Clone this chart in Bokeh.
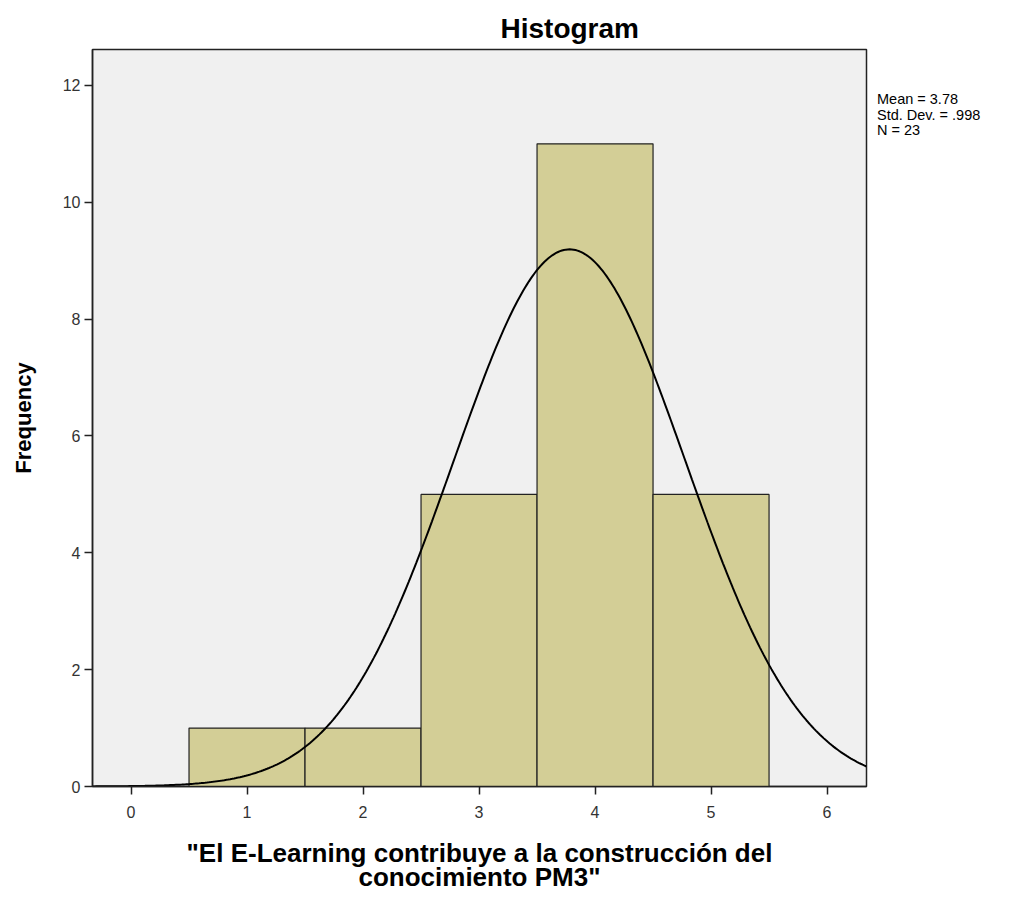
import numpy as np
from bokeh.plotting import figure
from bokeh.models import Range1d, ColumnDataSource, Div, Title
from bokeh.layouts import row
from bokeh.embed import file_html
from bokeh.resources import INLINE

# Data
bin_left = [0.5, 1.5, 2.5, 3.5, 4.5]
bin_right = [1.5, 2.5, 3.5, 4.5, 5.5]
counts = [1, 1, 5, 11, 5]
mean_val = 3.78
std_val = 0.998
n_val = 23
stats_lines = ["Mean = 3.78", "Std. Dev. = .998", "N = 23"]
x_ticks = [0, 1, 2, 3, 4, 5, 6]
y_ticks = [0, 2, 4, 6, 8, 10, 12]

FONT = "Liberation Sans"

p = figure(width=872, height=895, output_backend="svg", toolbar_location=None,
           x_range=Range1d(-0.332, 6.34), y_range=Range1d(0, 12.615),
           min_border_left=92, min_border_right=6, min_border_top=49, min_border_bottom=108)

p.title = Title(text="Histogram", align="left", offset=408, text_font=FONT,
                text_font_style="bold", text_font_size="28px", text_color="black", standoff=11)

p.background_fill_color = "#f0f0f0"
p.border_fill_color = "white"
p.outline_line_color = "#222222"
p.outline_line_width = 1.5
p.xgrid.visible = False
p.ygrid.visible = False

src = ColumnDataSource(dict(left=bin_left, right=bin_right, top=counts, bottom=[0]*len(counts)))
p.quad(left="left", right="right", top="top", bottom="bottom", source=src,
       fill_color="#d3ce96", line_color="#222222", line_width=1.2)

# fitted normal curve from the reported statistics
xs = np.linspace(-0.332, 6.34, 400)
binw = 1.0
ys = n_val * binw / (std_val * np.sqrt(2 * np.pi)) * np.exp(-0.5 * ((xs - mean_val) / std_val) ** 2)
p.line(xs, ys, line_color="black", line_width=2)

for ax in (p.xaxis[0], p.yaxis[0]):
    ax.major_tick_out = 8
    ax.major_tick_in = 0
    ax.minor_tick_line_color = None
    ax.axis_line_color = "#222222"
    ax.axis_line_width = 1.5
    ax.major_tick_line_color = "#222222"
    ax.major_tick_line_width = 1.5
    ax.major_label_text_font = FONT
    ax.major_label_text_font_size = "16px"
    ax.major_label_text_color = "#333333"
    ax.axis_label_text_font = FONT
    ax.axis_label_text_font_style = "bold"
    ax.axis_label_text_color = "black"

p.xaxis.ticker = x_ticks
p.yaxis.ticker = y_ticks
p.xaxis.major_label_standoff = 11
p.yaxis.major_label_standoff = 4

p.xaxis.axis_label = "\"El E-Learning contribuye a la construcción del\nconocimiento PM3\""
p.xaxis.axis_label_text_font_size = "26px"
p.xaxis.axis_label_standoff = 17
p.xaxis.axis_label_text_line_height = 0.82

p.yaxis.axis_label = "Frequency"
p.yaxis.axis_label_text_font_size = "22px"
p.yaxis.axis_label_standoff = 24

stats_html = "<br>".join(stats_lines)
div = Div(text=stats_html, width=150, height=200, margin=(0, 0, 0, 0),
          styles={"font-family": FONT, "font-size": "14.5px", "line-height": "15.5px",
                  "color": "black", "padding-top": "92px", "padding-left": "5px"})

layout = row(p, div, spacing=0)
open("out.html", "w").write(file_html(layout, INLINE))
